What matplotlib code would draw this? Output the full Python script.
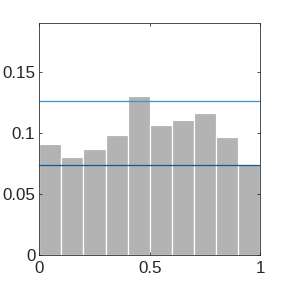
import numpy as np
import matplotlib
matplotlib.use("Agg")
import matplotlib.pyplot as plt

# histogram bin edges and probability heights
bin_edges = np.linspace(0, 1, 11)
bin_probs = [0.0913, 0.0806, 0.0872, 0.0986, 0.1306, 0.1068, 0.1109, 0.1167, 0.0970, 0.0749]
upper_level = 0.1265
lower_level = 0.0738

x_ticks = [0, 0.5, 1]
x_tick_labels = ["0", "0.5", "1"]
y_ticks = [0, 0.05, 0.1, 0.15]
y_tick_labels = ["0", "0.05", "0.1", "0.15"]

plt.rcParams['font.family'] = ['Liberation Sans', 'DejaVu Sans']

fig = plt.figure(figsize=(4, 4), dpi=72)
ax = fig.add_axes([0.1365, 0.1135, 0.7665, 0.8075])

ax.bar(bin_edges[:-1], bin_probs, width=np.diff(bin_edges), align='edge',
       color='#b3b3b3', edgecolor='white', linewidth=1.2, zorder=1)
ax.axhline(upper_level, color='#3d94d4', lw=1.3, zorder=2)
ax.axhline(lower_level, color='#0f5e9c', lw=1.3, zorder=2)

ax.set_xlim(0, 1)
ax.set_ylim(0, 0.1907)
ax.set_xticks(x_ticks)
ax.set_xticklabels(x_tick_labels)
ax.set_yticks(y_ticks)
ax.set_yticklabels(y_tick_labels)
ax.tick_params(direction='in', length=3, width=0.8, top=True, right=True,
               labelsize=17, colors='#262626')
ax.tick_params(axis='x', pad=6)
ax.tick_params(axis='y', pad=4)
for s in ax.spines.values():
    s.set_color('#262626')
    s.set_linewidth(0.8)

fig.savefig("out.png", dpi=72)
